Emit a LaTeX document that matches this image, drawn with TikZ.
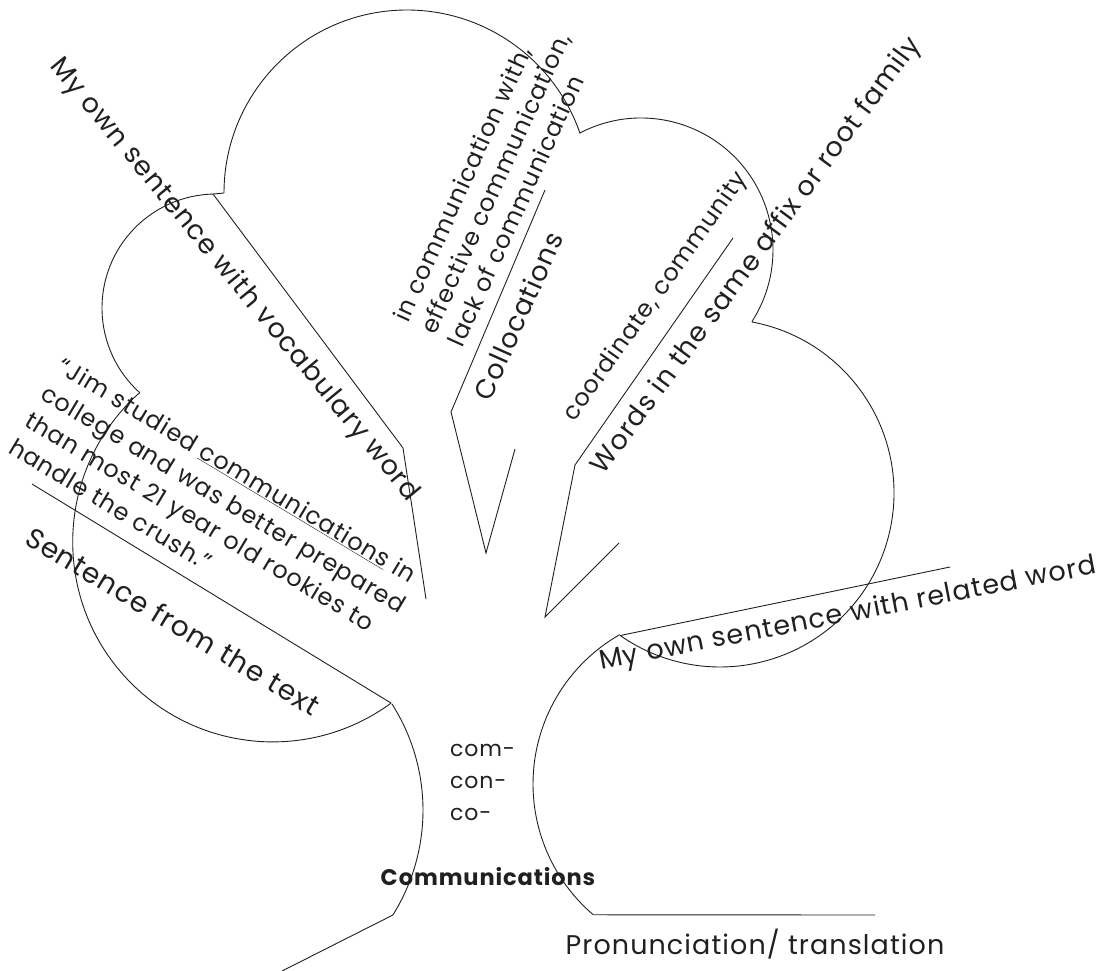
\documentclass[tikz,border=0pt]{standalone}
\usepackage{fontspec}
\setmainfont{Poppins}[LetterSpace=4]
\definecolor{ink}{HTML}{231F20}
\tikzset{
  outline/.style={draw=ink, line width=0.9pt, line join=miter},
  lbl/.style={text=ink, inner sep=0pt, font=\fontsize{27}{32}\selectfont},
  small/.style={text=ink, inner sep=0pt, font=\fontsize{24}{30}\selectfont},
}
\begin{document}
\begin{tikzpicture}[x=1pt,y=-1pt]
\useasboundingbox (0,0) rectangle (1109,971);

% centres of the arcs
\coordinate (cTop) at (407,193);
\coordinate (cTR) at (641,250);
\coordinate (cRB) at (720,493);
\coordinate (cBR) at (705,784);
\coordinate (cL) at (216,308);
\coordinate (cBL) at (272.7,541.9);
\coordinate (cTrunk) at (225.7,810.2);

% arcs
\draw[outline] (cTop) ++(180:183) coordinate (t1) arc[start angle=180, end angle=341, radius=183] coordinate (t2);
\draw[outline] (cTR) ++(-117.5:132) coordinate (r1) arc[start angle=-117.5, end angle=32, radius=132] coordinate (r2);
\draw[outline] (cRB) ++(-79.4:174) coordinate (rb1) arc[start angle=-79.4, end angle=125, radius=174] coordinate (rb2);
\draw[outline] (cBR) ++(240.3:172) coordinate (br1) arc[start angle=240.3, end angle=130.5, radius=172] coordinate (br2);
\draw[outline] (cL) ++(268.5:114) coordinate (l1) arc[start angle=268.5, end angle=132, radius=114] coordinate (l2);
\draw[outline] (cBL) ++(226.5:200) coordinate (bl1) arc[start angle=226.5, end angle=53.7, radius=200] coordinate (bl2);
\draw[outline] (cTrunk) ++(-32.6:197.3) coordinate (tr1) arc[start angle=-32.6, end angle=32.1, radius=197.3] coordinate (tr2);

% joins
\draw[outline] (t1) -- (l1);
\draw[outline] (r2) -- (rb1);
\draw[outline] (l2) -- (bl1);

% label lines
\coordinate (v1) at (403,448);
\coordinate (v2) at (426,599);
\draw[outline] (l1) -- (v1) -- (v2);

\coordinate (c0) at (545,190);
\coordinate (c1) at (451,412);
\coordinate (c2) at (486,553);
\coordinate (c3) at (515,449);
\draw[outline] (c0) -- (c1) -- (c2) -- (c3);

\coordinate (w0) at (733,238);
\coordinate (w1) at (575,465);
\coordinate (w2) at (545,617);
\coordinate (w3) at (619,543);
\draw[outline] (w0) -- (w1) -- (w2) -- (w3);

\coordinate (s0) at (32,484);
\draw[outline] (s0) -- (bl2);

\coordinate (root) at (282,971);
\draw[outline] (tr2) -- (root);

\coordinate (p1) at (875,915);
\draw[outline] (br2) -- (p1);

\coordinate (m1) at (950,567);
\draw[outline] (rb2) -- (m1);

% texts
\node[lbl, rotate=-50.5] (tVocab) at (234,280) {My own sentence with vocabulary word};
\node[small, rotate=65.5, align=left] (tColl) at (495,183)
  {in communication with,\\effective communication,\\lack of communication};
\node[lbl, rotate=66] (tCollH) at (518,316) {Collocations};
\node[small, rotate=54.5] (tCoord) at (656,297) {coordinate, community};
\node[lbl, rotate=53.6] (tWords) at (757,256) {Words in the same affix or root family};
\node[small, rotate=-31, align=left, font=\fontsize{24}{31.5}\selectfont] (tQuote) at (216,512)
  {``Jim studied \underline{communications} in\\college and was better prepared\\than most 21 year old rookies to\\handle the crush.''};
\node[lbl, rotate=-31, font=\fontsize{28}{32}\selectfont] (tSent) at (173,621) {Sentence from the text};
\node[lbl, rotate=11] (tRel) at (848,615) {My own sentence with related word};
\node[small, anchor=west, align=left, font=\fontsize{22}{32}\selectfont] (tPref) at (450,782) {com-\\con-\\co-};
\node[small, font=\fontsize{22.5}{26}\selectfont\bfseries] (tMain) at (488,877) {Communications};
\node[lbl] (tPron) at (755,944) {Pronunciation/ translation};
\end{tikzpicture}
\end{document}
